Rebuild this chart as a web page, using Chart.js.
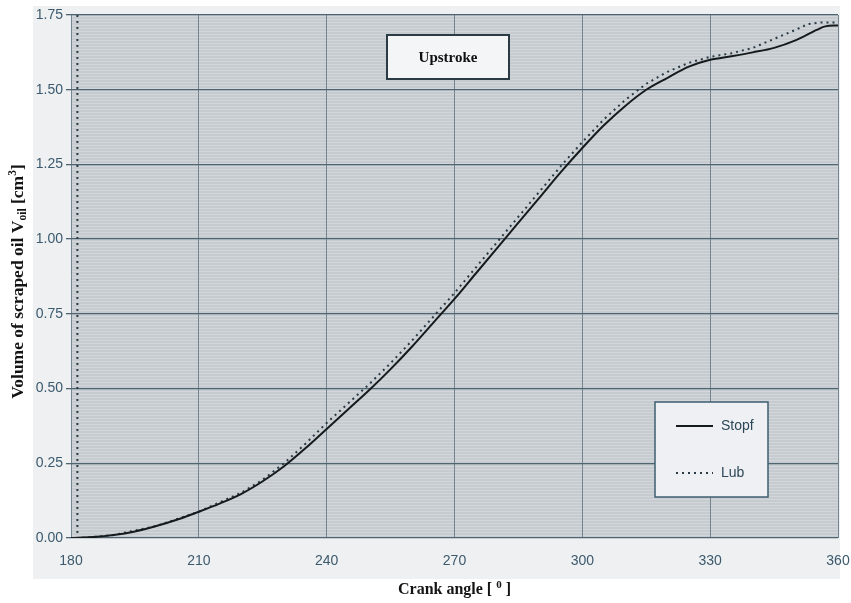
<!DOCTYPE html>
<html>
<head>
<meta charset="utf-8">
<title>Upstroke - volume of scraped oil</title>
<script src="https://cdn.jsdelivr.net/npm/chart.js@4.4.1/dist/chart.umd.min.js"></script>
<style>
  html, body { margin: 0; padding: 0; background: #fff; }
  #wrap { width: 851px; height: 603px; }
</style>
</head>
<body>
<div id="wrap"><canvas id="chart" width="851" height="603"></canvas></div>
<script>
/* ---------- DATA ---------- */
const stopfAngle = [180, 185, 190, 195, 200, 205, 210, 215, 220, 225, 230, 235, 240, 245, 250,
  255, 260, 265, 270, 275, 280, 285, 290, 295, 300, 305, 310, 315, 320, 325, 330,
  335, 340, 345, 350, 355, 357, 360];
const stopfVol = [0, 0.003, 0.01, 0.022, 0.04, 0.062, 0.088, 0.116, 0.148, 0.19, 0.24, 0.30, 0.365, 0.43, 0.495,
  0.565, 0.64, 0.72, 0.80, 0.885, 0.97, 1.055, 1.14, 1.225, 1.305, 1.38, 1.445, 1.50, 1.54, 1.577, 1.60,
  1.612, 1.625, 1.64, 1.665, 1.70, 1.712, 1.715];

const lubAngle = [181.5, 181.5, 185, 190, 200, 210, 220, 225, 230, 235, 240, 245, 250,
  255, 260, 265, 270, 275, 280, 285, 290, 295, 300, 305, 310, 315, 320, 325, 330,
  335, 340, 345, 350, 353, 356, 360];
const lubVol = [1.75, 0, 0.003, 0.01, 0.04, 0.088, 0.152, 0.195, 0.25, 0.315, 0.385, 0.45, 0.515,
  0.585, 0.66, 0.74, 0.82, 0.905, 0.99, 1.075, 1.16, 1.245, 1.325, 1.40, 1.465, 1.52, 1.56, 1.59, 1.61,
  1.622, 1.64, 1.67, 1.70, 1.72, 1.725, 1.725];

const xTicks = [180, 210, 240, 270, 300, 330, 360];
const yTicks = [0, 0.25, 0.5, 0.75, 1.0, 1.25, 1.5, 1.75];
const seriesNames = ['Stopf', 'Lub'];
const boxLabel = 'Upstroke';

const toPoints = (xs, ys) => xs.map((x, i) => ({ x: x, y: ys[i] }));

/* ---------- DECORATION PLUGIN ---------- */
// draws the grey panel, the textured plot area, the label box, the legend and axis titles
const decor = {
  id: 'decor',
  beforeDraw(chart) {
    const { ctx, chartArea: a } = chart;
    ctx.save();
    ctx.fillStyle = '#ffffff';
    ctx.fillRect(0, 0, chart.width, chart.height);
    // outer light panel
    ctx.fillStyle = '#eff0f2';
    ctx.fillRect(a.left - 38, a.top - 9, a.right - a.left + 40, a.bottom - a.top + 50);
    // plot area with a faint scan texture
    ctx.fillStyle = '#c6cbd0';
    ctx.fillRect(a.left, a.top, a.right - a.left, a.bottom - a.top);
    ctx.strokeStyle = 'rgba(235,238,242,0.35)';
    ctx.lineWidth = 1;
    for (let y = a.top + 1.5; y < a.bottom; y += 3) {
      ctx.beginPath(); ctx.moveTo(a.left, y); ctx.lineTo(a.right, y); ctx.stroke();
    }
    ctx.restore();
  },
  afterDatasetsDraw(chart) {
    const { ctx, chartArea: a } = chart;
    ctx.save();

    // "Upstroke" box
    const bx = a.left + 316, by = a.top + 20, bw = 122, bh = 44;
    ctx.fillStyle = '#f4f5f7';
    ctx.fillRect(bx, by, bw, bh);
    ctx.strokeStyle = '#2a3b44';
    ctx.lineWidth = 2;
    ctx.strokeRect(bx, by, bw, bh);
    ctx.fillStyle = '#111';
    ctx.font = 'bold 15px "Liberation Serif", "Times New Roman", serif';
    ctx.textAlign = 'center';
    ctx.textBaseline = 'middle';
    ctx.fillText(boxLabel, bx + bw / 2, by + bh / 2 + 1);

    // legend box
    const lx = a.left + 584, ly = a.top + 387, lw = 113, lh = 95;
    ctx.fillStyle = '#eef0f3';
    ctx.fillRect(lx, ly, lw, lh);
    ctx.strokeStyle = '#3f5f70';
    ctx.lineWidth = 1.5;
    ctx.strokeRect(lx, ly, lw, lh);
    chart.data.datasets.forEach((ds, i) => {
      const yy = ly + 24 + i * 47;
      ctx.strokeStyle = ds.borderColor;
      ctx.lineWidth = ds.borderWidth;
      ctx.setLineDash(ds.borderDash || []);
      ctx.beginPath(); ctx.moveTo(lx + 21, yy); ctx.lineTo(lx + 58, yy); ctx.stroke();
      ctx.setLineDash([]);
      ctx.fillStyle = '#2c4858';
      ctx.font = '14px "Liberation Sans", Arial, sans-serif';
      ctx.textAlign = 'left';
      ctx.textBaseline = 'middle';
      ctx.fillText(ds.label, lx + 66, yy);
    });
    ctx.restore();
  },
  afterDraw(chart) {
    const { ctx, chartArea: a } = chart;
    const serif = '"Liberation Serif", "Times New Roman", serif';
    // runs of text with sub/superscript offsets
    const drawRuns = (runs, cx, cy) => {
      let total = 0;
      runs.forEach(r => { ctx.font = 'bold ' + r.size + 'px ' + serif; r.w = ctx.measureText(r.t).width; total += r.w; });
      let x = cx - total / 2;
      runs.forEach(r => {
        ctx.font = 'bold ' + r.size + 'px ' + serif;
        ctx.fillText(r.t, x, cy + (r.dy || 0));
        x += r.w;
      });
    };
    ctx.save();
    ctx.fillStyle = '#141414';
    ctx.textAlign = 'left';
    ctx.textBaseline = 'alphabetic';

    // x axis title
    drawRuns([
      { t: 'Crank angle [ ', size: 16 },
      { t: '0', size: 11, dy: -6 },
      { t: ' ]', size: 16 }
    ], (a.left + a.right) / 2, a.bottom + 56);

    // y axis title (rotated)
    ctx.translate(23, (a.top + a.bottom) / 2 + 5);
    ctx.rotate(-Math.PI / 2);
    drawRuns([
      { t: 'Volume of scraped oil V', size: 17.5 },
      { t: 'oil', size: 11.5, dy: 3 },
      { t: ' [cm', size: 17.5 },
      { t: '3', size: 11.5, dy: -7 },
      { t: ']', size: 17.5 }
    ], 0, 0);
    ctx.restore();
  }
};

/* ---------- CHART ---------- */
new Chart(document.getElementById('chart').getContext('2d'), {
  type: 'line',
  data: {
    datasets: [
      {
        label: seriesNames[0],
        data: toPoints(stopfAngle, stopfVol),
        borderColor: '#151a1d',
        borderWidth: 2,
        pointRadius: 0,
        cubicInterpolationMode: 'monotone',
        fill: false
      },
      {
        label: seriesNames[1],
        data: toPoints(lubAngle, lubVol),
        borderColor: '#2a3a44',
        borderWidth: 2,
        borderDash: [2, 4],
        pointRadius: 0,
        tension: 0,
        fill: false
      }
    ]
  },
  options: {
    responsive: false,
    animation: false,
    devicePixelRatio: 1,
    layout: { padding: { top: 15, right: 13, left: 0, bottom: 0 } },
    plugins: { legend: { display: false }, tooltip: { enabled: false } },
    scales: {
      x: {
        type: 'linear',
        min: 180, max: 360,
        afterBuildTicks: s => { s.ticks = xTicks.map(v => ({ value: v })); },
        afterFit: s => { s.height = 65; s.paddingLeft = 0; s.paddingRight = 0; },
        grid: { color: '#75858f', lineWidth: 1, drawTicks: false },
        border: { display: false },
        ticks: {
          padding: 15,
          color: '#3b5a6d',
          font: { family: '"Liberation Sans", Arial, sans-serif', size: 14 },
          maxRotation: 0
        }
      },
      y: {
        min: 0, max: 1.75,
        afterBuildTicks: s => { s.ticks = yTicks.map(v => ({ value: v })); },
        afterFit: s => { s.width = 71; s.paddingTop = 0; s.paddingBottom = 0; },
        grid: { color: '#4e6470', lineWidth: 1.3, tickLength: 5 },
        border: { display: false },
        ticks: {
          padding: 3,
          color: '#3b5a6d',
          font: { family: '"Liberation Sans", Arial, sans-serif', size: 14 },
          callback: v => v.toFixed(2)
        }
      }
    }
  },
  plugins: [decor]
});
</script>
</body>
</html>
